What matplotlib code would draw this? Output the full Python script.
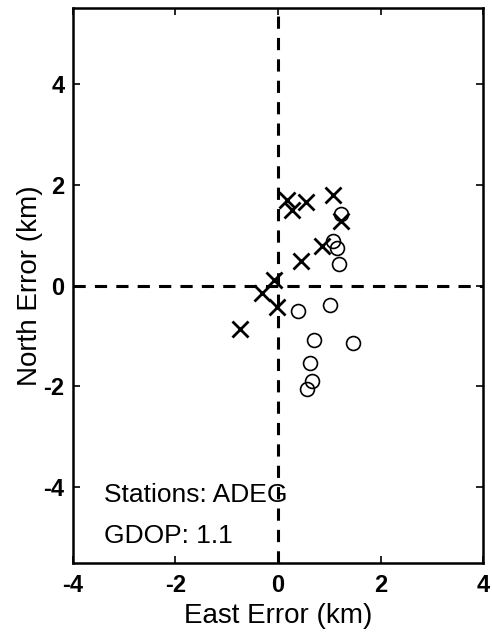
import matplotlib
matplotlib.use('Agg')
from matplotlib import pyplot as plt

plt.rcParams['font.family'] = ['Liberation Sans', 'DejaVu Sans']
plt.rcParams['axes.unicode_minus'] = False

# east/north error (km), crosses
cross_east = [0.18, 0.27, 0.55, 1.07, 1.22, 0.85, 0.44, -0.07, -0.32, -0.02, -0.74]
cross_north = [1.70, 1.50, 1.66, 1.80, 1.28, 0.78, 0.48, 0.12, -0.15, -0.42, -0.86]
# circles
circ_east = [1.23, 1.07, 1.16, 1.18, 1.02, 0.40, 0.71, 1.47, 0.63, 0.66, 0.57]
circ_north = [1.41, 0.88, 0.75, 0.42, -0.38, -0.51, -1.07, -1.14, -1.54, -1.90, -2.06]

xticks = [-4, -2, 0, 2, 4]
yticks = [-4, -2, 0, 2, 4]

fig = plt.figure(figsize=(4.92, 6.36), dpi=100)
ax = fig.add_axes([0.148, 0.115, 0.834, 0.872])

ax.axhline(0, color='k', lw=2.2, ls=(0, (4, 3)))
ax.axvline(0, color='k', lw=2.2, ls=(0, (4, 3)))

ax.plot(cross_east, cross_north, 'x', color='k', ms=11, mew=2.0, ls='none')
ax.plot(circ_east, circ_north, 'o', mfc='none', mec='k', ms=10, mew=1.2, ls='none')

ax.set_xlim(-4, 4)
ax.set_ylim(-5.5, 5.5)
ax.set_xticks(xticks)
ax.set_yticks(yticks)
ax.tick_params(direction='in', length=5, width=1.2, top=True, right=True,
               labelsize=17, pad=6)
ax.tick_params(axis='x', pad=8)
for lab in ax.get_xticklabels() + ax.get_yticklabels():
    lab.set_fontweight('bold')
for s in ax.spines.values():
    s.set_linewidth(1.8)

ax.set_xlabel('East Error (km)', fontsize=20, labelpad=4)
ax.set_ylabel('North Error (km)', fontsize=20, labelpad=0)

ax.text(-3.4, -4.3, 'Stations: ADEG', fontsize=19)
ax.text(-3.4, -5.1, 'GDOP: 1.1', fontsize=19)

fig.savefig('out.png', dpi=100)
